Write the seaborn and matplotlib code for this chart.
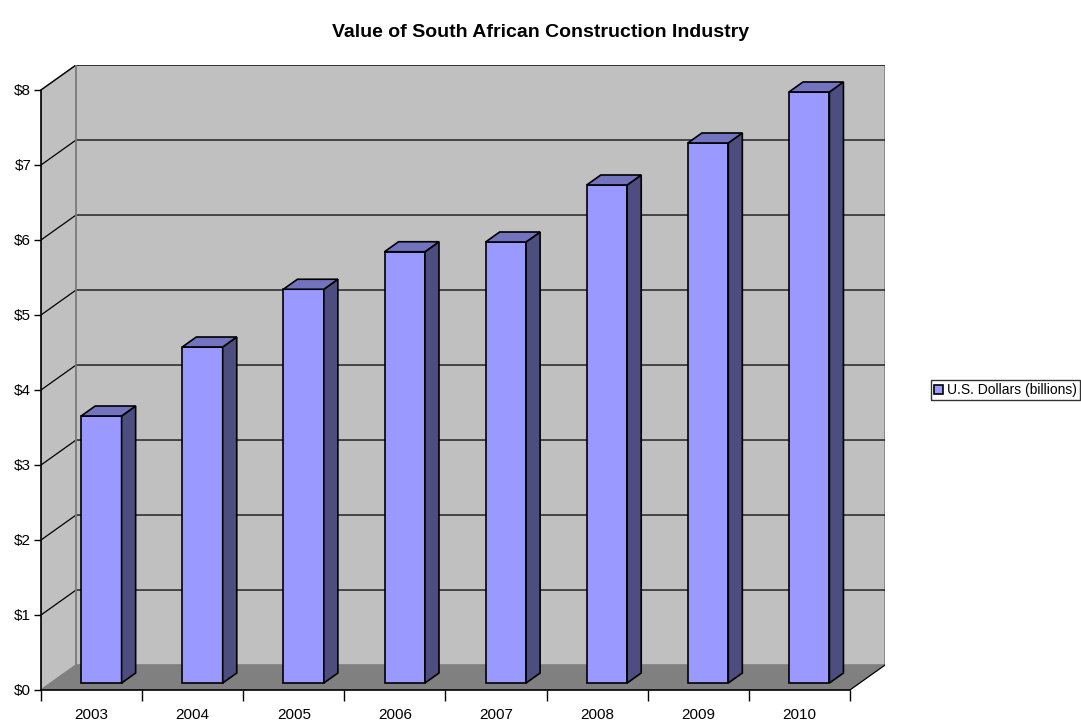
import matplotlib
matplotlib.use('Agg')
import matplotlib.pyplot as plt
from matplotlib.patches import Polygon
import seaborn as sns
import pandas as pd

years = ['2003', '2004', '2005', '2006', '2007', '2008', '2009', '2010']
values = [3.56, 4.48, 5.25, 5.75, 5.88, 6.64, 7.20, 7.88]
y_ticks = [0, 1, 2, 3, 4, 5, 6, 7, 8]
y_labels = ['$' + str(v) for v in y_ticks]
series_name = 'U.S. Dollars (billions)'

sns.set_style('white')
plt.rcParams['font.family'] = ['Liberation Sans', 'DejaVu Sans']
plt.rcParams['text.color'] = 'black'
plt.rcParams['xtick.color'] = 'black'
plt.rcParams['ytick.color'] = 'black'

# oblique depth shift in data units
dx, dy = 0.347, 0.333
d0, d1 = 0.28, 0.68
face = '#9999FF'
side = '#4D4D80'
top = '#7373BF'

fig = plt.figure(figsize=(10.81, 7.23), dpi=100)
ax = fig.add_axes([41 / 1081, 33 / 723, 844 / 1081, 625 / 723])

# walls and floor
left_wall = Polygon([(-0.5, 0), (-0.5 + dx, dy), (-0.5 + dx, 8 + dy), (-0.5, 8)],
                    closed=True, facecolor='#C0C0C0', edgecolor='#808080', lw=1.2, zorder=0)
back_wall = Polygon([(-0.5 + dx, dy), (7.5 + dx, dy), (7.5 + dx, 8 + dy), (-0.5 + dx, 8 + dy)],
                    closed=True, facecolor='#C0C0C0', edgecolor='#808080', lw=1.2, zorder=0)
ax.add_patch(left_wall)
ax.add_patch(back_wall)
for v in y_ticks[1:]:
    ax.plot([-0.5, -0.5 + dx, 7.5 + dx], [v, v + dy, v + dy], color='black', lw=0.9, zorder=1)
floor = Polygon([(-0.5, 0), (7.5, 0), (7.5 + dx, dy), (-0.5 + dx, dy)],
                closed=True, facecolor='#808080', edgecolor='none', zorder=2)
ax.add_patch(floor)
ax.plot([7.5, 7.5 + dx], [0, dy], color='black', lw=0.9, zorder=2)
ax.plot([-0.5 + dx, -0.5 + dx], [dy, 8 + dy], color='#808080', lw=1.2, zorder=1)

df = pd.DataFrame({'year': years, 'value': values})
sns.barplot(data=df, x='year', y='value', color=face, width=0.4, saturation=1,
            edgecolor='black', linewidth=1.2, ax=ax, zorder=3, label=series_name)

for p in list(ax.patches):
    if isinstance(p, Polygon):
        continue
    x0 = p.get_x() + d0 * dx
    w = p.get_width()
    h = p.get_height()
    y0 = d0 * dy
    p.set_x(x0)
    p.set_y(y0)
    ddx = (d1 - d0) * dx
    ddy = (d1 - d0) * dy
    ax.add_patch(Polygon([(x0 + w, y0), (x0 + w + ddx, y0 + ddy), (x0 + w + ddx, y0 + h + ddy), (x0 + w, y0 + h)],
                         closed=True, facecolor=side, edgecolor='black', lw=1.2, zorder=3))
    ax.add_patch(Polygon([(x0, y0 + h), (x0 + w, y0 + h), (x0 + w + ddx, y0 + h + ddy), (x0 + ddx, y0 + h + ddy)],
                         closed=True, facecolor=top, edgecolor='black', lw=1.2, zorder=3))

ax.set_xlim(-0.5, 7.5 + dx)
ax.set_ylim(0, 8 + dy)
for s in ['top', 'right']:
    ax.spines[s].set_visible(False)
ax.spines['left'].set_bounds(0, 8)
ax.spines['bottom'].set_bounds(-0.5, 7.5)
for s in ['left', 'bottom']:
    ax.spines[s].set_zorder(4)
    ax.spines[s].set_color('black')
    ax.spines[s].set_linewidth(1.2)

ax.set_yticks(y_ticks)
ax.set_yticklabels(y_labels, fontsize=11)
ax.set_xticks([i - 0.5 for i in range(len(years) + 1)])
ax.set_xticklabels([])
ax.set_xticks(range(len(years)), minor=True)
ax.set_xticklabels(years, minor=True, fontsize=11)
ax.tick_params(axis='y', direction='out', length=5, width=1, color='black', left=True, pad=2)
ax.tick_params(axis='x', which='major', direction='out', length=8, width=1, color='black', bottom=True)
ax.tick_params(axis='x', which='minor', length=0, pad=13)
ax.set_xlabel('')
ax.set_ylabel('')

fig.suptitle('Value of South African Construction Industry', fontsize=14, fontweight='bold', y=0.967)

handles, labels = ax.get_legend_handles_labels()
leg = fig.legend(handles[:1], labels[:1], loc='center left', bbox_to_anchor=(931 / 1081, 1 - 390 / 723),
                 frameon=True, fancybox=False, fontsize=10, handlelength=0.6, handleheight=0.6,
                 handletextpad=0.3, borderpad=0.25, borderaxespad=0)
leg.get_frame().set_edgecolor('black')
leg.get_frame().set_linewidth(1)
if ax.get_legend() is not None:
    ax.get_legend().remove()

plt.savefig('out.png', dpi=100)
